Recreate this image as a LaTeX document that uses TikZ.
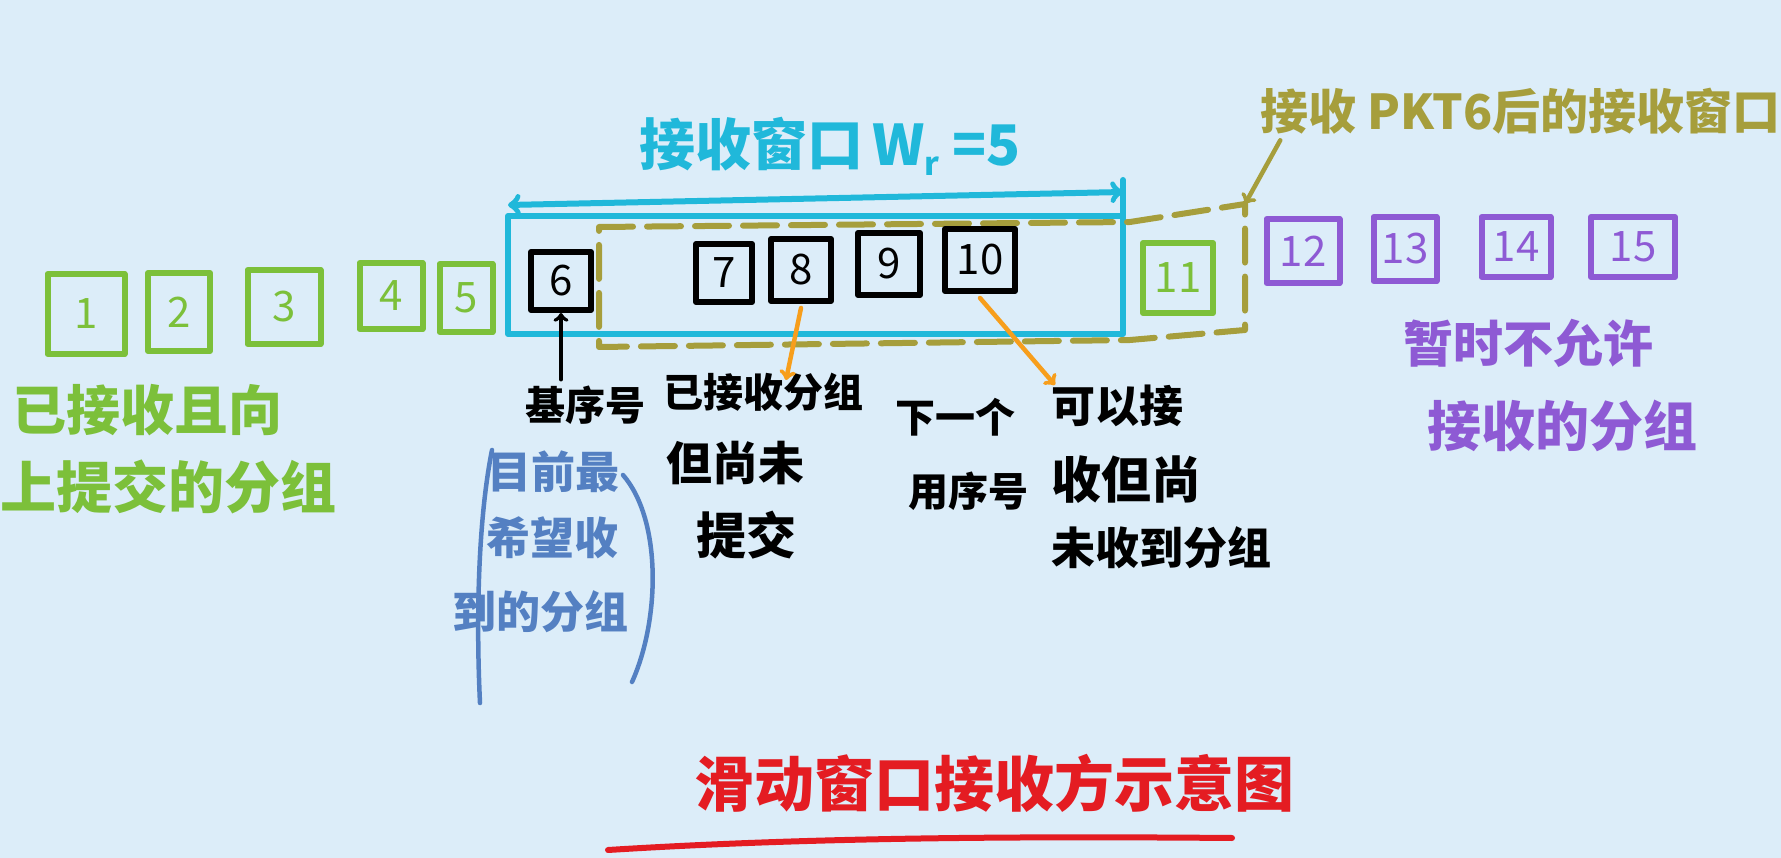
\documentclass[tikz,border=0pt]{standalone}
\usepackage{fontspec}
\setmainfont{Noto Sans CJK SC}
\usetikzlibrary{calc}

\definecolor{bgblue}{RGB}{220,237,249}
\definecolor{donegreen}{RGB}{124,192,58}
\definecolor{wincyan}{RGB}{32,184,218}
\definecolor{winolive}{RGB}{166,158,60}
\definecolor{waitpurple}{RGB}{142,90,212}
\definecolor{noteblue}{RGB}{84,128,194}
\definecolor{markorange}{RGB}{247,158,28}
\definecolor{titlered}{RGB}{228,28,34}

\begin{document}
\begin{tikzpicture}[x=1pt, y=-1pt, line cap=round, line join=round,
  pkt/.style={draw, line width=6pt, inner sep=0pt, font=\fontsize{42}{42}\selectfont},
  hand/.style={inner sep=0pt, font=\fontsize{#1}{#1}\selectfont\bfseries}]
  \fill[bgblue] (0,0) rectangle (1781,858);
  \useasboundingbox (0,0) rectangle (1781,858);

  % Windows
  \draw[wincyan, line width=6pt] (508,216) rectangle (1123,334);
  \draw[wincyan, line width=6pt] (1123,216) -- (1123,180);
  \draw[wincyan, line width=6pt, <->] (508,205) -- (1123,192);
  \node[hand=56, wincyan] (wlabel) at (830,146) {接收窗口\,W\raisebox{-10pt}{\fontsize{32}{32}\selectfont r} =5};
  \draw[winolive, line width=6pt, dash pattern=on 34pt off 14pt]
    (599,227) -- (1130,222) -- (1245,204) -- (1245,330) -- (1130,340) -- (599,347) -- cycle;
  \path (1245,204) coordinate (newwin);

  % Packets
  \node[pkt, donegreen, minimum width=77pt, minimum height=80pt] (p1) at (86,314) {1};
  \node[pkt, donegreen, minimum width=62pt, minimum height=78pt] (p2) at (179,312) {2};
  \node[pkt, donegreen, minimum width=73pt, minimum height=74pt] (p3) at (284,307) {3};
  \node[pkt, donegreen, minimum width=63pt, minimum height=66pt] (p4) at (391,296) {4};
  \node[pkt, donegreen, minimum width=53pt, minimum height=68pt] (p5) at (466,298) {5};
  \node[pkt, black, minimum width=60pt, minimum height=58pt] (p6) at (561,281) {6};
  \node[pkt, black, minimum width=56pt, minimum height=58pt] (p7) at (724,273) {7};
  \node[pkt, black, minimum width=60pt, minimum height=62pt] (p8) at (801,270) {8};
  \node[pkt, black, minimum width=62pt, minimum height=62pt] (p9) at (889,264) {9};
  \node[pkt, black, minimum width=70pt, minimum height=62pt] (p10) at (980,260) {10};
  \node[pkt, donegreen, minimum width=70pt, minimum height=70pt] (p11) at (1178,278) {11};
  \node[pkt, waitpurple, minimum width=73pt, minimum height=64pt] (p12) at (1303,251) {12};
  \node[pkt, waitpurple, minimum width=63pt, minimum height=64pt] (p13) at (1405,249) {13};
  \node[pkt, waitpurple, minimum width=69pt, minimum height=60pt] (p14) at (1516,247) {14};
  \node[pkt, waitpurple, minimum width=84pt, minimum height=60pt] (p15) at (1633,247) {15};

  % Notes
  \node[hand=54, donegreen, anchor=west] (done1) at (12,410) {已接收且向};
  \node[hand=56, donegreen, anchor=west] (done2) at (0,487) {上提交的分组};
  \node[hand=40, black] (base) at (585,405) {基序号};
  \draw[line width=4pt, ->] (base.north -| p6) ++(0,-6) coordinate (basetip) (basetip) -- (p6.south);
  \node[hand=40, black] (buf1) at (763,392) {已接收分组};
  \node[hand=46, black] (buf2) at (735,463) {但尚未};
  \node[hand=50, black] (buf3) at (746,535) {提交};
  \node[hand=40, black] (next1) at (955,417) {下一个};
  \node[hand=40, black] (next2) at (968,491) {用序号};
  \node[hand=44, black, anchor=west] (ok1) at (1051,406) {可以接};
  \node[hand=50, black, anchor=west] (ok2) at (1051,480) {收但尚};
  \node[hand=44, black, anchor=west] (ok3) at (1051,548) {未收到分组};
  \node[hand=50, waitpurple] (wait1) at (1528,343) {暂时不允许};
  \node[hand=54, waitpurple] (wait2) at (1562,426) {接收的分组};
  \node[hand=44, noteblue] (exp1) at (553,472) {目前最};
  \node[hand=44, noteblue] (exp2) at (552,538) {希望收};
  \node[hand=44, noteblue] (exp3) at (540,612) {到的分组};
  \draw[noteblue, line width=4.5pt] (492,450) .. controls (478,520) and (476,620) .. (480,703);
  \draw[noteblue, line width=4.5pt] (623,475) .. controls (662,520) and (660,620) .. (632,682);
  \node[hand=48, winolive, anchor=east] (after6) at (1781,111) {接收 PKT6后的接收窗口};

  % Pointers
  \path ($(p8.south)+(0,4)$) coordinate (from8) (786,380) coordinate (to8);
  \path ($(p10.south)+(0,4)$) coordinate (from10) (1055,385) coordinate (to10);
  \draw[markorange, line width=4.5pt, ->] (from8) -- (to8);
  \draw[markorange, line width=4.5pt, ->] (from10) -- (to10);
  \draw[winolive, line width=4.5pt, ->] (after6.south west) ++(20,6) -- (newwin);

  % Title
  \node[hand=60, titlered] (title) at (994,783) {滑动窗口接收方示意图};
  \draw[titlered, line width=6pt] (608,850) .. controls (800,838) and (1000,836) .. (1232,838);
\end{tikzpicture}
\end{document}
